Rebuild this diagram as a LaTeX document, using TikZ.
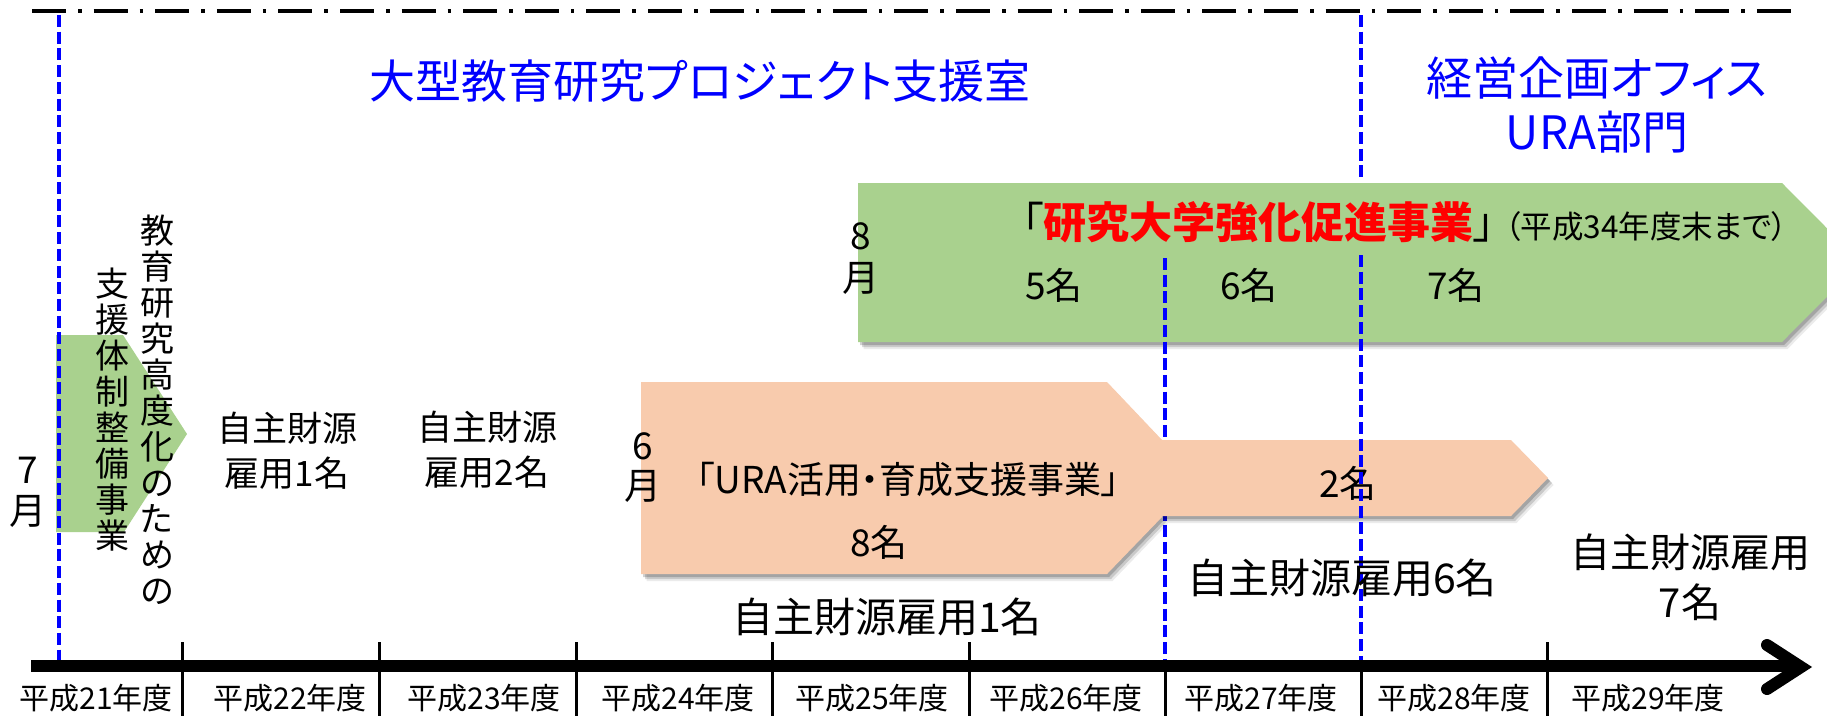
\documentclass[tikz,border=0pt]{standalone}
\usepackage{fontspec}
\setmainfont{Noto Sans CJK JP}[RawFeature={+palt}]
\usetikzlibrary{shadows}
\definecolor{boxgreen}{HTML}{A9D18E}
\definecolor{boxorange}{HTML}{F8CBAD}
\newcommand{\myfs}[2]{\fontsize{#1}{#2}\selectfont}
\begin{document}
\begin{tikzpicture}[x=1pt,y=-1pt,
  txt/.style={inner sep=0pt, align=center, text=black},
  bluedash/.style={draw=blue, line width=4pt, dash pattern=on 12pt off 4.7pt},
  yeartick/.style={draw=black, line width=3pt},
  shad/.style={drop shadow={shadow xshift=2pt, shadow yshift=-3pt, opacity=0.18, fill=black},
               drop shadow={shadow xshift=4pt, shadow yshift=-5pt, opacity=0.14, fill=black},
               drop shadow={shadow xshift=5.5pt, shadow yshift=-7pt, opacity=0.08, fill=black}},
  yearlbl/.style={txt, font=\myfs{30}{30}},
  cnt/.style={txt, font=\myfs{37}{37}}]
\useasboundingbox (0,0) rectangle (1827,716);
\fill[white] (0,0) rectangle (1827,716);

% top dash-dot line
\draw[line width=3.7pt, dash pattern=on 34pt off 12pt on 3.6pt off 12pt] (32,11) -- (1800,11);

% titles
\node[txt, text=blue, font=\myfs{46}{46}] (t1) at (700,81) {大型教育研究プロジェクト支援室};
\node[txt, text=blue, font=\myfs{46}{54}] (t2) at (1597,105) {経営企画オフィス\\URA部門};

% big green arrow
\fill[boxgreen, shad] (858,183) -- (1782,183) -- (1861,262.5) -- (1782,342) -- (858,342) -- cycle;
\node[txt, anchor=base west, font=\myfs{43}{43}] (g0) at (1022,238)
  {「{\bfseries\color{red}研究大学強化促進事業}」\hspace{10pt}{\myfs{31.5}{31.5}（平成34年度末まで）}};
\node[cnt] (g1) at (1054,285) {5名};
\node[cnt] (g2) at (1249,285) {6名};
\node[cnt] (g3) at (1456,285) {7名};

% divider L2 (under orange)
\coordinate (l2a) at (1165,258);
\coordinate (l2b) at (1165,666);
\draw[bluedash] (l2a) -- (l2b);

% orange arrows
\fill[boxorange, shad] (641,382) -- (1107,382) -- (1162,440) -- (1162,517) -- (1107,574) -- (641,574) -- cycle;
\fill[boxorange, shad] (1162,440) -- (1511,440) -- (1548,478) -- (1511,516) -- (1162,516) -- cycle;
\node[txt, font=\myfs{37}{37}] (o1) at (908,479) {「URA活用・育成支援事業」};
\node[cnt] (o2) at (879,542) {8名};
\node[cnt] (o3) at (1348,483) {2名};

% divider L3
\coordinate (l3a) at (1361,15);
\coordinate (l3b) at (1361,181);
\coordinate (l3c) at (1361,255);
\coordinate (l3d) at (1361,666);
\draw[bluedash] (l3a) -- (l3b);
\draw[bluedash] (l3c) -- (l3d);

% small green arrow
\fill[boxgreen] (56,335) -- (123,335) -- (187,434) -- (124,532) -- (56,532) -- cycle;
\coordinate (l1a) at (59,15);
\coordinate (l1b) at (59,666);
\draw[bluedash] (l1a) -- (l1b);

% vertical text
\node[txt, font=\myfs{34}{36}] (v1) at (157,410) {教\\育\\研\\究\\高\\度\\化\\の\\た\\め\\の};
\node[txt, font=\myfs{34}{36}] (v2) at (112,410) {支\\援\\体\\制\\整\\備\\事\\業};

% month labels
\node[txt, font=\myfs{37}{41}] (m7) at (28,492) {7\\月};
\node[txt, font=\myfs{37}{40}] (m6) at (643,468) {6\\月};
\node[txt, font=\myfs{37}{42}] (m8) at (861,259) {8\\月};

% self-funded labels
\node[txt, font=\myfs{35}{45}] (s1) at (287,451) {自主財源\\雇用1名};
\node[txt, font=\myfs{35}{45}] (s2) at (487,450) {自主財源\\雇用2名};
\node[txt, font=\myfs{41}{41}] (s3) at (887,617) {自主財源雇用1名};
\node[txt, font=\myfs{41}{41}] (s4) at (1342,578) {自主財源雇用6名};
\node[txt, font=\myfs{40}{50}] (s5) at (1690,577) {自主財源雇用\\7名};

% axis
\draw[line width=12pt] (31,666) -- (1795,666);
\draw[line width=12pt, line cap=round, line join=miter] (1767,645) -- (1801,667) -- (1767,689);
\foreach \x in {182,379,576,772,969,1547} \draw[yeartick] (\x,642) -- (\x,716);
\foreach \x in {1165,1361} \draw[yeartick] (\x,666) -- (\x,716);

% year labels
\node[yearlbl] (y21) at (96,698) {平成21年度};
\node[yearlbl] (y22) at (290,698) {平成22年度};
\node[yearlbl] (y23) at (484,698) {平成23年度};
\node[yearlbl] (y24) at (678,698) {平成24年度};
\node[yearlbl] (y25) at (872,698) {平成25年度};
\node[yearlbl] (y26) at (1066,698) {平成26年度};
\node[yearlbl] (y27) at (1261,698) {平成27年度};
\node[yearlbl] (y28) at (1454,698) {平成28年度};
\node[yearlbl] (y29) at (1648,698) {平成29年度};
\end{tikzpicture}
\end{document}
